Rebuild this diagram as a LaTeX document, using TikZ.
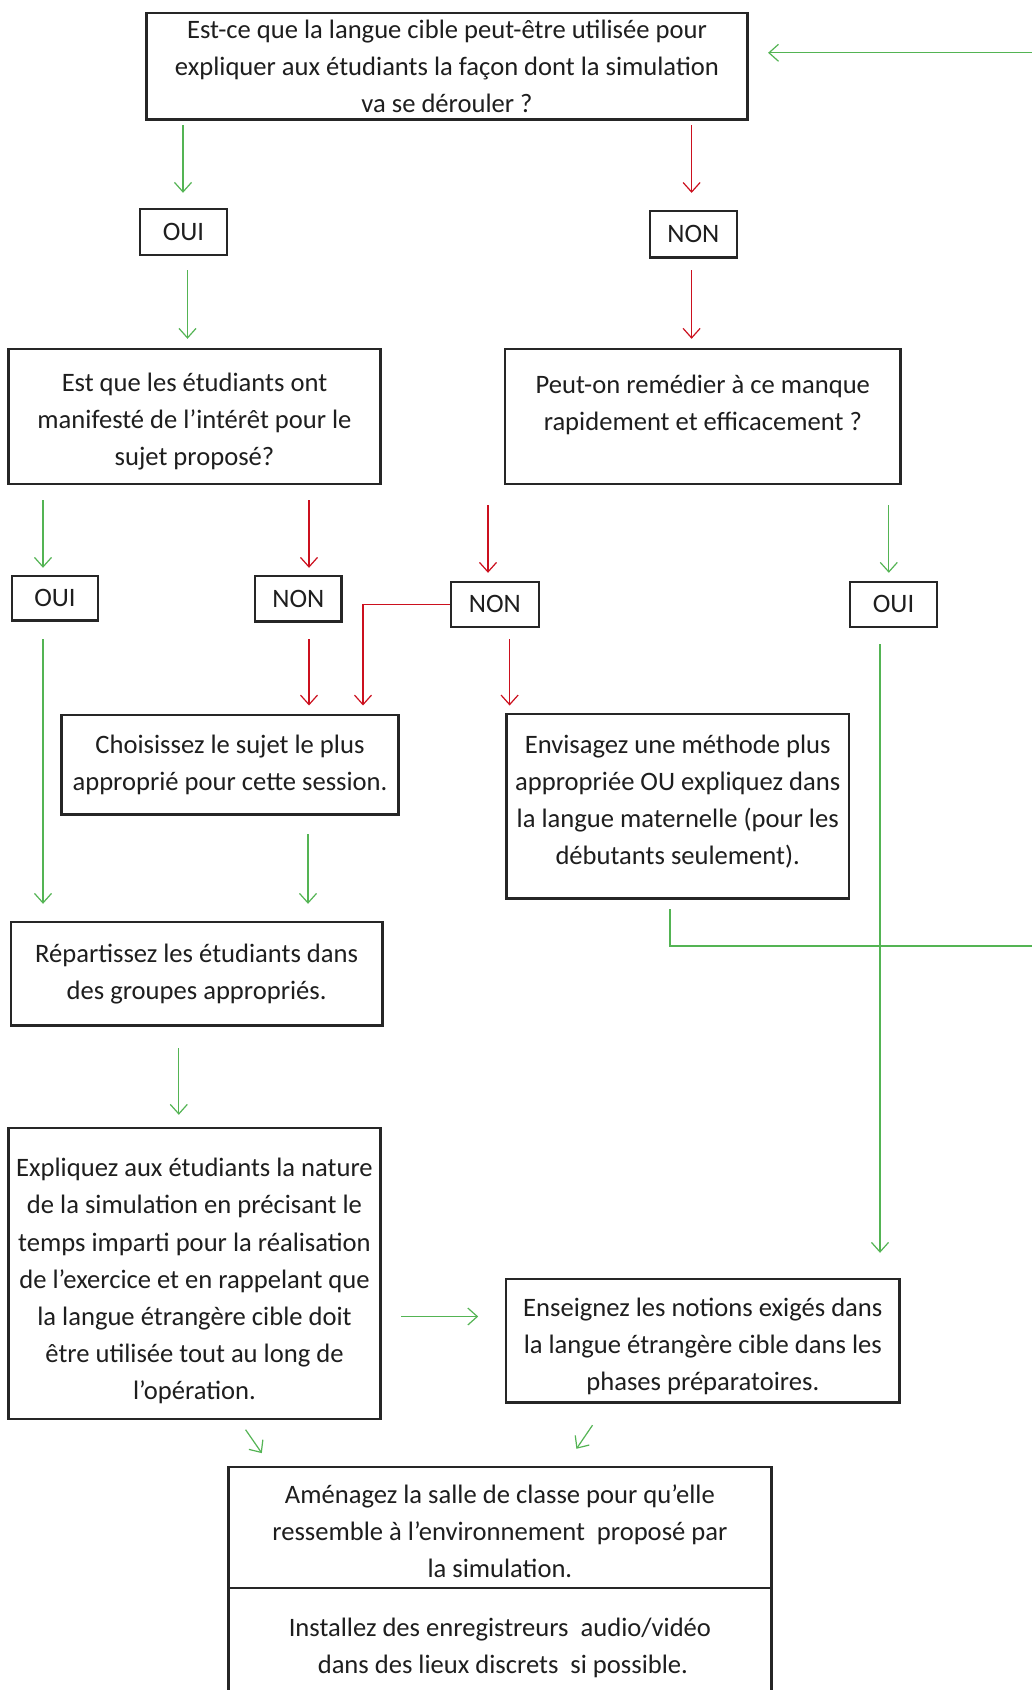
\documentclass[tikz,border=0pt]{standalone}
\usepackage{fontspec}
\setmainfont{Carlito}
\usetikzlibrary{arrows.meta,calc}
\definecolor{fgreen}{RGB}{84,180,84}
\definecolor{fred}{RGB}{204,16,30}
\definecolor{boxline}{RGB}{38,38,38}
\definecolor{txt}{RGB}{30,30,30}
\newcommand\tup[1]{\rule{0pt}{#1}}
\newcommand\tdn[1]{\rule[-#1]{0pt}{0pt}}
\begin{document}
\begin{tikzpicture}[x=0.5pt,y=-0.5pt,
  box/.style={draw=boxline,line width=1.2pt,inner sep=0pt,align=center,text=txt,
    font=\fontsize{13.3}{18.6}\selectfont},
  ga/.style={draw=fgreen,line width=0.6pt,-{Straight Barb[length=4.75pt,width=8.5pt]}},
  ra/.style={draw=fred,line width=0.6pt,-{Straight Barb[length=4.75pt,width=8.5pt]}},
  gl/.style={draw=fgreen,line width=0.6pt}]
\clip (0,0) rectangle (1032,1690);
\fill[white] (0,0) rectangle (1032,1690);
% nodes
\node[box,minimum width=300.5pt,minimum height=53.4pt] (q1) at (447,66.3)
  {Est-ce que la langue cible peut-être utilisée pour\\expliquer aux étudiants la façon dont la simulation\\va se dérouler ?};
\node[box,minimum width=43.5pt,minimum height=23pt] (oui1) at (183.5,232) {OUI};
\node[box,minimum width=43.6pt,minimum height=23.2pt] (non1) at (693.3,234.3) {NON};
\node[box,minimum width=185.9pt,minimum height=67.4pt] (q2) at (194.5,416.4)
  {\tup{14.3pt}Est que les étudiants ont\\manifesté de l’intérêt pour le\\sujet proposé?};
\node[box,minimum width=197.8pt,minimum height=67.4pt] (q3) at (702.8,416.4)
  {\tup{14.3pt}Peut-on remédier à ce manque\\rapidement et efficacement ?\\\mbox{}};
\node[box,minimum width=43pt,minimum height=22.3pt] (oui2) at (55,598.3) {OUI};
\node[box,minimum width=43.3pt,minimum height=22.8pt] (non2) at (298.3,598.8) {NON};
\node[box,minimum width=43.9pt,minimum height=22.7pt] (non3) at (494.9,604.4) {NON};
\node[box,minimum width=43.5pt,minimum height=22.7pt] (oui3) at (893.5,604.4) {OUI};
\node[box,minimum width=168.6pt,minimum height=49.7pt] (ch) at (230,764.7)
  {Choisissez le sujet le plus\\approprié pour cette session.};
\node[box,minimum width=171.4pt,minimum height=92.3pt] (en) at (677.7,806.3)
  {Envisagez une méthode plus\\appropriée OU expliquez dans\\la langue maternelle (pour les\\débutants seulement).\tdn{6.4pt}};
\node[box,minimum width=185.8pt,minimum height=51.8pt] (rp) at (196.6,973.8)
  {Répartissez les étudiants dans\\des groupes appropriés.};
\node[box,minimum width=185.9pt,minimum height=145.4pt] (ex) at (194.5,1273.4)
  {\tup{17pt}Expliquez aux étudiants la nature\\de la simulation en précisant le\\temps imparti pour la réalisation\\de l’exercice et en rappelant que\\la langue étrangère cible doit\\être utilisée tout au long de\\l’opération.};
\node[box,minimum width=196.8pt,minimum height=61.9pt] (es) at (702.8,1340.7)
  {\tup{14.9pt}Enseignez les notions exigés dans\\la langue étrangère cible dans les\\phases préparatoires.};
\node[box,minimum width=271.5pt,minimum height=60.5pt] (am) at (499.9,1527.5)
  {\tup{12.9pt}Aménagez la salle de classe pour qu’elle\\ressemble à l’environnement\ \ proposé par\\la simulation.};
\node[box,minimum width=271.5pt,minimum height=56pt] (in) at (499.9,1644)
  {\tup{12.9pt}Installez des enregistreurs\ \ audio/vidéo\\\ dans des lieux discrets\ \ si possible.};
% free ends
\coordinate (retin) at (1032,52.8);
\coordinate (loopout) at (1032,946);
% connectors
\draw[gl,-{Straight Barb[length=4.75pt,width=8.5pt]}] (retin) -- ($(q1.east)+(19.4,-13.5)$);
\draw[ga] ($(q1.south -| 183,0)+(0,4.4)$) -- ($(oui1.north -| 183,0)+(0,-15)$);
\draw[ra] ($(q1.south -| 691.6,0)+(0,4.4)$) -- ($(non1.north -| 691.6,0)+(0,-17)$);
\draw[ga] ($(oui1.south -| 187.5,0)+(0,14)$) -- ($(q2.north -| 187.5,0)+(0,-9)$);
\draw[ra] ($(non1.south -| 691.6,0)+(0,11.5)$) -- ($(q3.north -| 691.6,0)+(0,-9)$);
\draw[ga] ($(q2.south -| 43,0)+(0,15.3)$) -- ($(oui2.north -| 43,0)+(0,-7)$);
\draw[ra] ($(q2.south -| 309,0)+(0,15.3)$) -- ($(non2.north -| 309,0)+(0,-7)$);
\draw[ra] ($(q3.south -| 488,0)+(0,20.3)$) -- ($(non3.north -| 488,0)+(0,-7.7)$);
\draw[ga] ($(q3.south -| 888.8,0)+(0,20.3)$) -- ($(oui3.north -| 888.8,0)+(0,-7.7)$);
\draw[ra] (non3.west) -| ($(ch.north -| 363,0)+(0,-8.3)$);
\draw[ra] ($(non2.south -| 309,0)+(0,16.4)$) -- ($(ch.north -| 309,0)+(0,-8.3)$);
\draw[ra] ($(non3.south -| 509.6,0)+(0,11)$) -- ($(en.north -| 509.6,0)+(0,-7.3)$);
\draw[ga] ($(oui2.south -| 43,0)+(0,17.5)$) -- ($(rp.north -| 43,0)+(0,-17)$);
\draw[ga] ($(oui3.south -| 880,0)+(0,16)$) -- ($(es.north -| 880,0)+(0,-24.8)$);
\draw[ga] ($(ch.south -| 308,0)+(0,18.6)$) -- ($(rp.north -| 308,0)+(0,-17)$);
\draw[ga] ($(rp.south -| 178.8,0)+(0,21.4)$) -- ($(ex.north -| 178.8,0)+(0,-12)$);
\draw[ga] ($(ex.east |- 0,1316.5)+(19.4,0)$) -- ($(es.west |- 0,1316.5)+(-26.6,0)$);
\draw[ga] ($(ex.south -| 245.6,0)+(0,9.7)$) -- ($(am.north -| 261.8,0)+(0,-12.7)$);
\draw[ga] ($(es.south -| 592.5,0)+(0,21.4)$) -- ($(am.north -| 576.4,0)+(0,-17)$);
\draw[gl] ($(en.south -| 670,0)+(0,9.5)$) |- (loopout);
\end{tikzpicture}
\end{document}
